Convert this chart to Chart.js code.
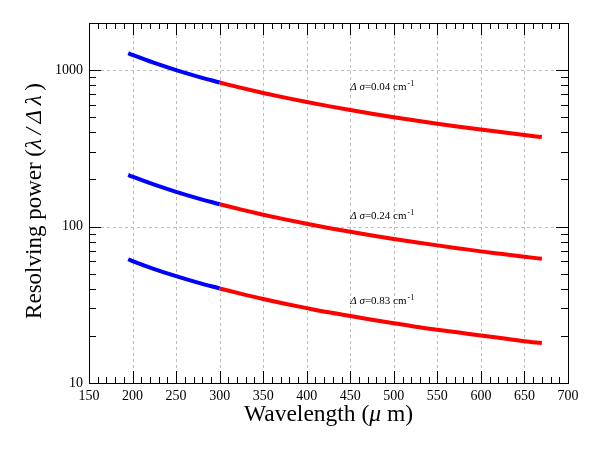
<!DOCTYPE html>
<html>
<head>
<meta charset="utf-8">
<script src="https://cdn.jsdelivr.net/npm/chart.js@4/dist/chart.umd.min.js"></script>
<style>
  html, body { margin: 0; padding: 0; background: #fff; }
  #wrap { width: 592px; height: 453px; }
</style>
</head>
<body>
<div id="wrap"><canvas id="myChart" width="592" height="453"></canvas></div>
<script>
// wavelength (um) sampled along each curve
const blueX = [195, 200, 225, 250, 275, 300];
const redX = [300, 325, 350, 375, 400, 425, 450, 475, 500, 525, 550, 575, 600, 625, 650, 670];

// resolving power, delta sigma = 0.04 / 0.24 / 0.83 cm-1
const r004Blue = [1282, 1250, 1111, 1000, 909.1, 833.3];
const r004Red = [833.3, 769.2, 714.3, 666.7, 625.0, 588.2, 555.6, 526.3, 500.0, 476.2, 454.5, 434.8, 416.7, 400.0, 384.6, 373.1];
const r024Blue = [213.7, 208.3, 185.2, 166.7, 151.5, 138.9];
const r024Red = [138.9, 128.2, 119.0, 111.1, 104.2, 98.0, 92.6, 87.7, 83.3, 79.4, 75.8, 72.5, 69.4, 66.7, 64.1, 62.2];
const r083Blue = [61.8, 60.2, 53.5, 48.2, 43.8, 40.2];
const r083Red = [40.2, 37.1, 34.4, 32.1, 30.1, 28.3, 26.8, 25.4, 24.1, 22.9, 21.9, 21.0, 20.1, 19.3, 18.5, 18.0];

const labelNames = ['0.04', '0.24', '0.83'];
const labelX = [450, 450, 450];
const labelY = [796, 118, 33.8];

const xTicks = [150, 200, 250, 300, 350, 400, 450, 500, 550, 600, 650, 700];
const yTicks = [10, 100, 1000];

const serif = '"Liberation Serif", "DejaVu Serif", serif';

function pts(xs, ys) {
    return xs.map((x, i) => ({ x: x, y: ys[i] }));
}

function line(xs, ys, color) {
    return {
        data: pts(xs, ys),
        borderColor: color,
        backgroundColor: color,
        borderWidth: 4,
        pointRadius: 0,
        cubicInterpolationMode: 'monotone',
        fill: false
    };
}

// frame, inward ticks, dashed grid, axis titles and curve labels
const decor = {
    id: 'decor',
    beforeDatasetsDraw(chart) {
        const ctx = chart.ctx;
        const a = chart.chartArea;
        const xs = chart.scales.x, ys = chart.scales.y;
        ctx.save();
        ctx.strokeStyle = '#bdbdbd';
        ctx.lineWidth = 1;
        ctx.setLineDash([3, 3]);
        xTicks.slice(1, -1).forEach(v => {
            const p = Math.round(xs.getPixelForValue(v)) + 0.5;
            ctx.beginPath(); ctx.moveTo(p, a.top); ctx.lineTo(p, a.bottom); ctx.stroke();
        });
        yTicks.slice(1).forEach(v => {
            const p = Math.round(ys.getPixelForValue(v)) + 0.5;
            ctx.beginPath(); ctx.moveTo(a.left, p); ctx.lineTo(a.right, p); ctx.stroke();
        });
        ctx.restore();
    },
    afterDraw(chart) {
        const ctx = chart.ctx;
        const a = chart.chartArea;
        const xs = chart.scales.x, ys = chart.scales.y;
        ctx.save();
        ctx.strokeStyle = '#000';
        ctx.lineWidth = 1;
        ctx.setLineDash([]);
        ctx.strokeRect(Math.round(a.left) + 0.5, Math.round(a.top) + 0.5,
            Math.round(a.right - a.left), Math.round(a.bottom - a.top));

        // x ticks
        for (let v = 150; v <= 700; v += 10) {
            const p = Math.round(xs.getPixelForValue(v)) + 0.5;
            const len = (v % 50 === 0) ? 12 : 6;
            ctx.beginPath();
            ctx.moveTo(p, a.bottom); ctx.lineTo(p, a.bottom - len);
            ctx.moveTo(p, a.top); ctx.lineTo(p, a.top + len);
            ctx.stroke();
        }
        // y ticks (log)
        for (let d = 10; d <= 1000; d *= 10) {
            for (let m = 1; m <= 9; m++) {
                const v = d * m;
                if (v > 2000) break;
                const p = Math.round(ys.getPixelForValue(v)) + 0.5;
                const len = (m === 1) ? 12 : 7;
                ctx.beginPath();
                ctx.moveTo(a.left, p); ctx.lineTo(a.left + len, p);
                ctx.moveTo(a.right, p); ctx.lineTo(a.right - len, p);
                ctx.stroke();
            }
        }

        ctx.fillStyle = '#000';
        ctx.textBaseline = 'alphabetic';

        // x title
        const xParts = [['Wavelength (', ''], ['\u03bc', 'italic '], [' m)', '']];
        drawParts(ctx, xParts, 23.5, (a.left + a.right) / 2, 421, 'center');

        // y title
        ctx.save();
        ctx.translate(41, (a.top + a.bottom) / 2 - 2);
        ctx.rotate(-Math.PI / 2);
        const yParts = [['Resolving power (', ''], ['\u03bb\u2009/\u2009\u0394\u2009\u03bb', 'italic '], ['\u2009)', '']];
        drawParts(ctx, yParts, 23, 0, 0, 'center');
        ctx.restore();

        // curve labels
        labelNames.forEach((n, i) => {
            const px = xs.getPixelForValue(labelX[i]);
            const py = ys.getPixelForValue(labelY[i]) + 4;
            let x = drawParts(ctx, [['\u0394 \u03c3', 'italic '], ['=' + n + ' cm', '']], 11, px, py, 'left');
            ctx.font = '8px ' + serif;
            ctx.fillText('-1', x + 1, py - 4);
        });
        ctx.restore();
    }
};

function drawParts(ctx, parts, size, x, y, align) {
    let total = 0;
    parts.forEach(p => { ctx.font = p[1] + size + 'px ' + serif; total += ctx.measureText(p[0]).width; });
    let cx = align === 'center' ? x - total / 2 : x;
    ctx.textAlign = 'left';
    parts.forEach(p => {
        ctx.font = p[1] + size + 'px ' + serif;
        ctx.fillText(p[0], cx, y);
        cx += ctx.measureText(p[0]).width;
    });
    return cx;
}

const ctx = document.getElementById('myChart').getContext('2d');
new Chart(ctx, {
    type: 'line',
    data: {
        datasets: [
            line(redX, r004Red, '#ff0000'),
            line(blueX, r004Blue, '#0000ff'),
            line(redX, r024Red, '#ff0000'),
            line(blueX, r024Blue, '#0000ff'),
            line(redX, r083Red, '#ff0000'),
            line(blueX, r083Blue, '#0000ff')
        ]
    },
    options: {
        responsive: false,
        animation: false,
        layout: { padding: { top: 23, right: 24, left: 0, bottom: 0 } },
        plugins: { legend: { display: false }, tooltip: { enabled: false } },
        scales: {
            x: {
                type: 'linear',
                min: 150,
                max: 700,
                afterBuildTicks: s => { s.ticks = xTicks.map(v => ({ value: v })); },
                afterFit: s => { s.height = 70; },
                grid: { display: false, drawTicks: false },
                border: { display: false },
                ticks: {
                    padding: 5,
                    color: '#000',
                    font: { family: serif, size: 14 },
                    maxRotation: 0
                }
            },
            y: {
                type: 'logarithmic',
                min: 10,
                max: 2000,
                afterBuildTicks: s => { s.ticks = yTicks.map(v => ({ value: v })); },
                afterFit: s => { s.width = 89; },
                grid: { display: false, drawTicks: false },
                border: { display: false },
                ticks: {
                    padding: 6,
                    color: '#000',
                    font: { family: serif, size: 14 },
                    callback: v => String(v)
                }
            }
        }
    },
    plugins: [decor]
});
</script>
</body>
</html>
